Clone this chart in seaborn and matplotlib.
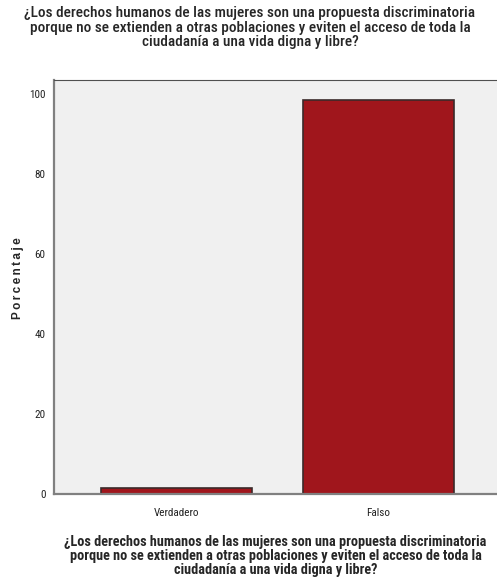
import pandas as pd
import matplotlib
matplotlib.use('Agg')
import matplotlib.pyplot as plt
import seaborn as sns

# data
categorias = ['Verdadero', 'Falso']
porcentajes = [1.5, 98.5]
ticks_y = [0, 20, 40, 60, 80, 100]

pregunta = ('¿Los derechos humanos de las mujeres son una propuesta discriminatoria\n'
            'porque no se extienden a otras poblaciones y eviten el acceso de toda la\n'
            'ciudadanía a una vida digna y libre?')

df = pd.DataFrame({'Respuesta': categorias, 'Porcentaje': porcentajes})

sns.set_style('white')
plt.rcParams['font.family'] = ['Roboto Condensed', 'DejaVu Sans']

fig = plt.figure(figsize=(4.97, 5.85), dpi=100)
ax = fig.add_axes([54 / 497, 1 - 494 / 585, 1 - 54 / 497, (494 - 80) / 585])
ax.set_facecolor('#f0f0f0')

sns.barplot(data=df, x='Respuesta', y='Porcentaje', color='#a0161c', width=0.75,
            edgecolor='#3a2a2a', linewidth=1.2, saturation=1, ax=ax)

ax.set_xlim(-0.61, 1.59)
ax.set_ylim(0, 103.5)
ax.set_yticks(ticks_y)
ax.tick_params(axis='both', direction='out', length=5, width=1, color='#404040',
               labelsize=8, labelcolor='#222222', pad=1)
ax.tick_params(axis='x', length=6, pad=4)

for side in ['left', 'bottom']:
    ax.spines[side].set_color('#808080')
    ax.spines[side].set_linewidth(1.6)
ax.spines['top'].set_color('#505050')
ax.spines['top'].set_linewidth(0.8)
ax.spines['right'].set_visible(False)

ax.set_ylabel('P\u2009o\u2009r\u2009c\u2009e\u2009n\u2009t\u2009a\u2009j\u2009e', fontsize=8.5,
              fontweight='bold', family=['Liberation Sans', 'DejaVu Sans'])
ax.yaxis.set_label_coords(-0.068, 0.522)
ax.set_xlabel(pregunta, fontsize=10.3, fontweight='bold', linespacing=1.0, labelpad=12.5)

fig.text(250 / 497, 1 - 6 / 585, pregunta, ha='center', va='top', fontsize=11,
         fontweight='medium', linespacing=1.05)

fig.savefig('out.png', dpi=100)
